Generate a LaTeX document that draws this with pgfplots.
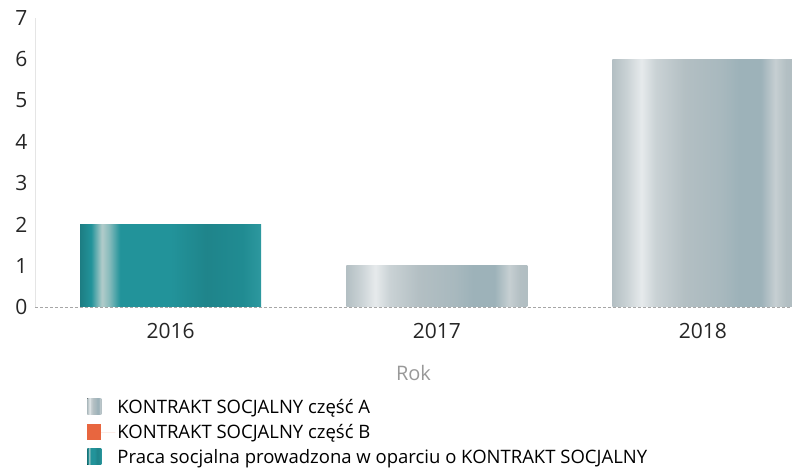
\documentclass[border=0pt]{standalone}
\usepackage{pgfplots}
\pgfplotsset{compat=1.18}
\usepackage{fontspec}
\setmainfont{Open Sans}
\definecolor{tealA}{HTML}{22939A}
\definecolor{tealH}{HTML}{B2CCCA}
\definecolor{greyA}{HTML}{B3BFC3}
\definecolor{greyH}{HTML}{E6EAEC}
\definecolor{greyD}{HTML}{9DB2B9}
\definecolor{orangeB}{HTML}{E8663F}
\pgfdeclarehorizontalshading{tealbar}{100bp}{color(0bp)=(tealA!85!black); color(25bp)=(tealA!85!black); color(28bp)=(tealA); color(31bp)=(tealH); color(33bp)=(tealH!70!tealA); color(36bp)=(tealA); color(50bp)=(tealA); color(60bp)=(tealA!90!black); color(70bp)=(tealA!95!black); color(75bp)=(tealA!95!white); color(100bp)=(tealA!95!white)}
\pgfdeclarehorizontalshading{greybar}{100bp}{color(0bp)=(greyA); color(25bp)=(greyA); color(29bp)=(greyA!70!white); color(33bp)=(greyH); color(37bp)=(greyA!70!white); color(45bp)=(greyA); color(55bp)=(greyA!50!greyD); color(60bp)=(greyD); color(66bp)=(greyD); color(70bp)=(greyA!75!white); color(73bp)=(greyA); color(75bp)=(greyA!90!greyD); color(100bp)=(greyA)}
\begin{document}
\begin{tikzpicture}
\useasboundingbox (0,0) rectangle (792bp,476bp);
\begin{axis}[
  at={(35bp,169bp)}, anchor=south west,
  scale only axis, width=757bp, height=289bp,
  xmin=-0.51, xmax=2.335, ymin=0, ymax=7,
  bar width=0.68,
  xtick={0,1,2}, xticklabels={2016,2017,2018},
  ytick={0,1,...,7},
  major tick length=0pt,
  axis x line*=bottom, axis y line*=left,
  x axis line style={gray!70, densely dashed, thin, -},
  y axis line style={gray!20, thin, -},
  tick label style={font=\fontsize{21bp}{24bp}\selectfont, text=black!85},
  /pgf/number format/assume math mode=true,
  xticklabel style={yshift=-13bp},
  yticklabel style={xshift=-4bp},
  xlabel={Rok},
  xlabel style={font=\fontsize{20bp}{24bp}\selectfont, text=gray!80, yshift=-20bp},
  legend cell align=left,
  legend style={at={(axis description cs:0.069,-0.311)}, anchor=north west, draw=none, fill=none,
    font=\fontsize{18.5bp}{22bp}\selectfont, row sep=5.5bp, inner sep=0pt},
  legend image code/.code={\fill[#1] (0bp,-7.5bp) rectangle (14bp,8.5bp); \path (0bp,0bp) -- (28bp,0bp);},
]
\addplot[ybar, bar shift=0pt, draw=none, shade, shading=greybar] coordinates {(1,1)};
\addlegendentry{KONTRAKT SOCJALNY część A}
\addplot[ybar, bar shift=0pt, draw=none, fill=orangeB] coordinates {(0,0) (1,0) (2,0)};
\addlegendentry{KONTRAKT SOCJALNY część B}
\addplot[ybar, bar shift=0pt, draw=none, shade, shading=tealbar] coordinates {(0,2)};
\addlegendentry{Praca socjalna prowadzona w oparciu o KONTRAKT SOCJALNY}
\addplot[ybar, bar shift=0pt, draw=none, shade, shading=greybar, forget plot] coordinates {(2,6)};
\end{axis}
\end{tikzpicture}
\end{document}
